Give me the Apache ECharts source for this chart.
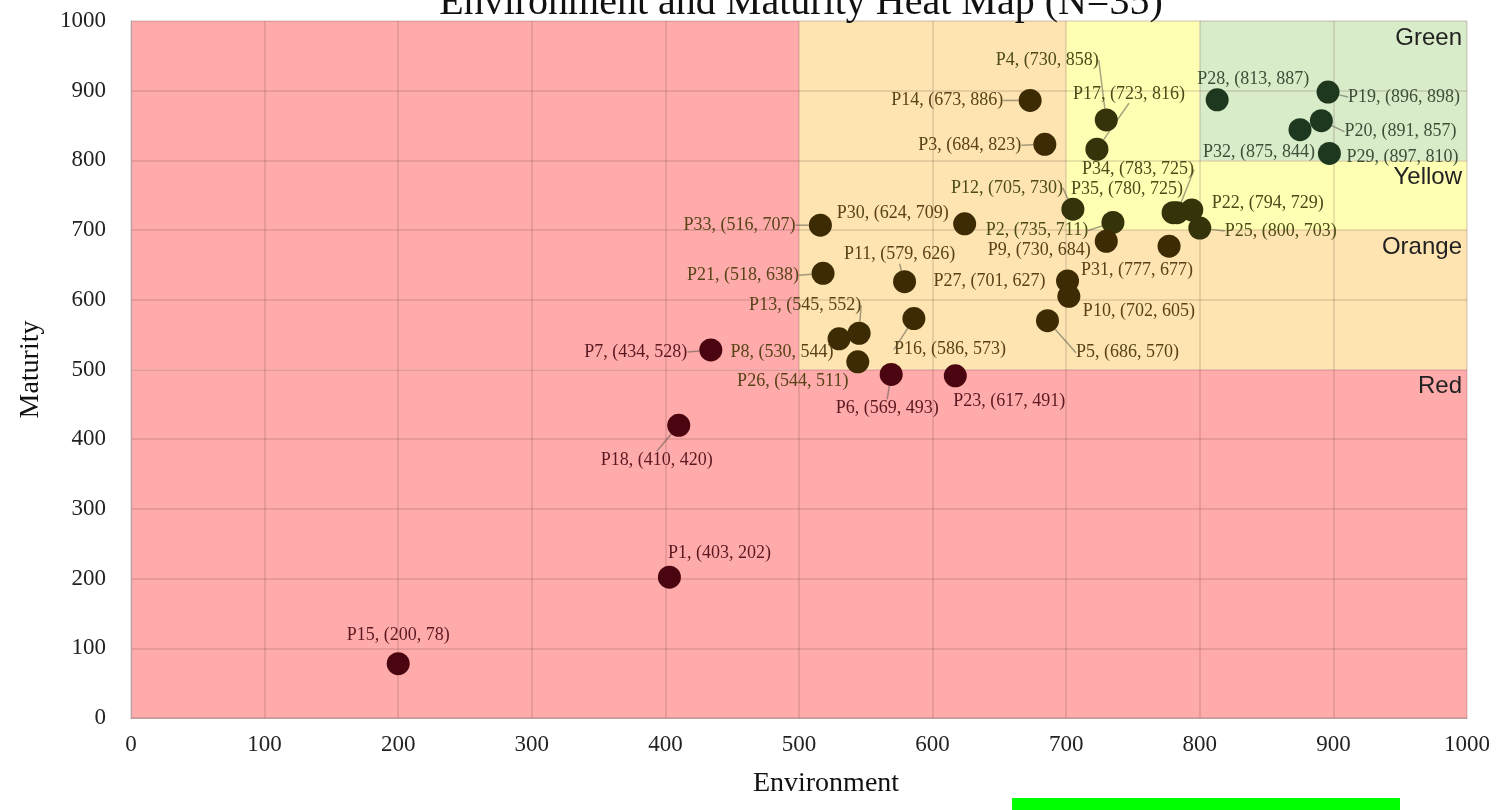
<!DOCTYPE html>
<html>
<head>
<meta charset="utf-8">
<script src="https://cdn.jsdelivr.net/npm/echarts@6/dist/echarts.min.js"></script>
<style>
html,body{margin:0;padding:0;background:#fff;}
#chart{width:1499px;height:810px;}
</style>
</head>
<body>
<div id="chart"></div>
<script>
// ---- data ----
const names = ['P1','P2','P3','P4','P5','P6','P7','P8','P9','P10','P11','P12','P13','P14','P15','P16','P17','P18','P19','P20','P21','P22','P23','P25','P26','P27','P28','P29','P30','P31','P32','P33','P34','P35'];
const environment = [403,735,684,730,686,569,434,530,730,702,579,705,545,673,200,586,723,410,896,891,518,794,617,800,544,701,813,897,624,777,875,516,783,780];
const maturity    = [202,711,823,858,570,493,528,544,684,605,626,730,552,886,78,573,816,420,898,857,638,729,491,703,511,627,887,810,709,677,844,707,725,725];
const axisTicks = [0,100,200,300,400,500,600,700,800,900,1000];
const zoneNames = ['Green','Yellow','Orange','Red'];

// ---- label placement (pixel offsets of label centre from point) ----
const labelOffsets = {
  P15:[0,-28], P1:[50,-24], P18:[-22,35], P7:[-75,2], P8:[-57,13], P13:[-54,-28],
  P26:[-65,19], P6:[-4,34], P16:[36,31], P23:[54,25], P11:[-5,-27], P21:[-80,2],
  P33:[-81,0], P30:[-72,-11], P12:[-66,-21], P2:[-76,8], P9:[-67,9], P27:[-78,0],
  P10:[70,15], P5:[80,32], P31:[-32,24], P34:[-39,-43], P35:[-46,-23], P22:[76,-7],
  P25:[81,3], P3:[-75,1], P14:[-83,0], P4:[-59,-60], P17:[32,-55], P28:[36,-20],
  P19:[76,5], P20:[79,11], P32:[-41,23], P29:[73,4]
};
const withLine = new Set(['P18','P7','P13','P6','P16','P11','P21','P33','P12','P2','P5','P34','P4','P17','P19','P20','P14','P3','P25']);

function zoneOf(x, y) {
  if (x >= 800 && y >= 800) return 'green';
  if ((x >= 700 && x < 800 && y >= 700) || (x >= 800 && y >= 700)) return 'yellow';
  if (x >= 500 && y >= 500) return 'orange';
  return 'red';
}
const markerColor = {red:'#4a0510', orange:'#3d2b04', yellow:'#34330a', green:'#1e381f'};
const textColor = {red:'#5c1820', orange:'#574317', yellow:'#4c4a17', green:'#3c4e36'};

const points = names.map((n, i) => {
  const x = environment[i], y = maturity[i];
  const z = zoneOf(x, y);
  return {
    name: n,
    value: [x, y],
    itemStyle: {color: markerColor[z], opacity: 1},
    label: {color: textColor[z]},
    labelLine: {show: withLine.has(n)}
  };
});

const zoneLabel = (txt) => ({
  show: true, position: 'insideTopRight', distance: 5, formatter: txt,
  fontFamily: '"Liberation Sans", Arial, sans-serif', fontSize: 24, color: '#222'
});
const noLabel = {show: false};

const chart = echarts.init(document.getElementById('chart'), null, {renderer: 'canvas'});
chart.setOption({
  backgroundColor: '#ffffff',
  animation: false,
  title: {
    text: 'Environment and Maturity Heat Map (N=35)',
    left: 796, textAlign: 'center', top: -22,
    textStyle: {fontFamily: '"Liberation Serif", "Times New Roman", serif', fontSize: 40, fontWeight: 'normal', color: '#111'}
  },
  grid: {left: 131, right: 32, top: 21, bottom: 92, containLabel: false, outerBoundsMode: 'none'},
  xAxis: {
    type: 'value', min: 0, max: 1000, interval: 100, z: 2,
    name: 'Environment', nameLocation: 'middle', nameGap: 52,
    nameTextStyle: {fontFamily: '"Liberation Serif", "Times New Roman", serif', fontSize: 28, color: '#111', padding: [0,0,0,54]},
    axisLine: {show: true, lineStyle: {color: '#b0a0a0', width: 1}},
    axisTick: {show: false},
    axisLabel: {margin: 15, fontFamily: '"Liberation Serif", "Times New Roman", serif', fontSize: 23, color: '#222',
      formatter: v => axisTicks.includes(v) ? String(v) : ''},
    splitLine: {show: true, lineStyle: {color: 'rgba(100,60,60,0.2)', width: 1.5}}
  },
  yAxis: {
    type: 'value', min: 0, max: 1000, interval: 100, z: 2,
    name: 'Maturity', nameLocation: 'middle', nameGap: 86, nameRotate: 90,
    nameTextStyle: {fontFamily: '"Liberation Serif", "Times New Roman", serif', fontSize: 28, color: '#111'},
    axisLine: {show: true, lineStyle: {color: '#b0a0a0', width: 1}},
    axisTick: {show: false},
    axisLabel: {margin: 25, fontFamily: '"Liberation Serif", "Times New Roman", serif', fontSize: 23, color: '#222',
      formatter: v => axisTicks.includes(v) ? String(v) : ''},
    splitLine: {show: true, lineStyle: {color: 'rgba(100,60,60,0.2)', width: 1.5}}
  },
  series: [
    {
      type: 'scatter', z: 1, data: [], silent: true,
      markArea: {
        silent: true,
        data: [
          [{xAxis: 0, yAxis: 0, itemStyle: {color: '#ffabab', opacity: 1}, label: zoneLabel(zoneNames[3])}, {xAxis: 1000, yAxis: 500}],
          [{xAxis: 0, yAxis: 500, itemStyle: {color: '#ffabab', opacity: 1}, label: noLabel}, {xAxis: 500, yAxis: 1000}],
          [{xAxis: 500, yAxis: 500, itemStyle: {color: '#fde4b0', opacity: 1}, label: noLabel}, {xAxis: 700, yAxis: 1000}],
          [{xAxis: 700, yAxis: 500, itemStyle: {color: '#fde4b0', opacity: 1}, label: zoneLabel(zoneNames[2])}, {xAxis: 1000, yAxis: 700}],
          [{xAxis: 700, yAxis: 700, itemStyle: {color: '#ffffb4', opacity: 1}, label: noLabel}, {xAxis: 800, yAxis: 1000}],
          [{xAxis: 800, yAxis: 700, itemStyle: {color: '#ffffb4', opacity: 1}, label: zoneLabel(zoneNames[1])}, {xAxis: 1000, yAxis: 800}],
          [{xAxis: 800, yAxis: 800, itemStyle: {color: '#d9ecc9', opacity: 1}, label: zoneLabel(zoneNames[0])}, {xAxis: 1000, yAxis: 1000}]
        ]
      }
    },
    {
      type: 'scatter', z: 3, symbolSize: 23,
      itemStyle: {opacity: 1},
      data: points,
      label: {
        show: true, position: 'inside',
        formatter: p => `${p.name}, (${p.value[0]}, ${p.value[1]})`,
        fontFamily: '"Liberation Serif", "Times New Roman", serif', fontSize: 18
      },
      labelLine: {show: false, lineStyle: {color: 'rgba(90,90,80,0.55)', width: 1.5}},
      labelLayout: function (params) {
        const off = labelOffsets[names[params.dataIndex]] || [0, 0];
        return {dx: off[0], dy: off[1], hideOverlap: false};
      }
    }
  ],
  graphic: [
    {type: 'rect', left: 1012, top: 798, shape: {width: 388, height: 12}, style: {fill: '#00ff00'}, silent: true}
  ]
});
</script>
</body>
</html>
